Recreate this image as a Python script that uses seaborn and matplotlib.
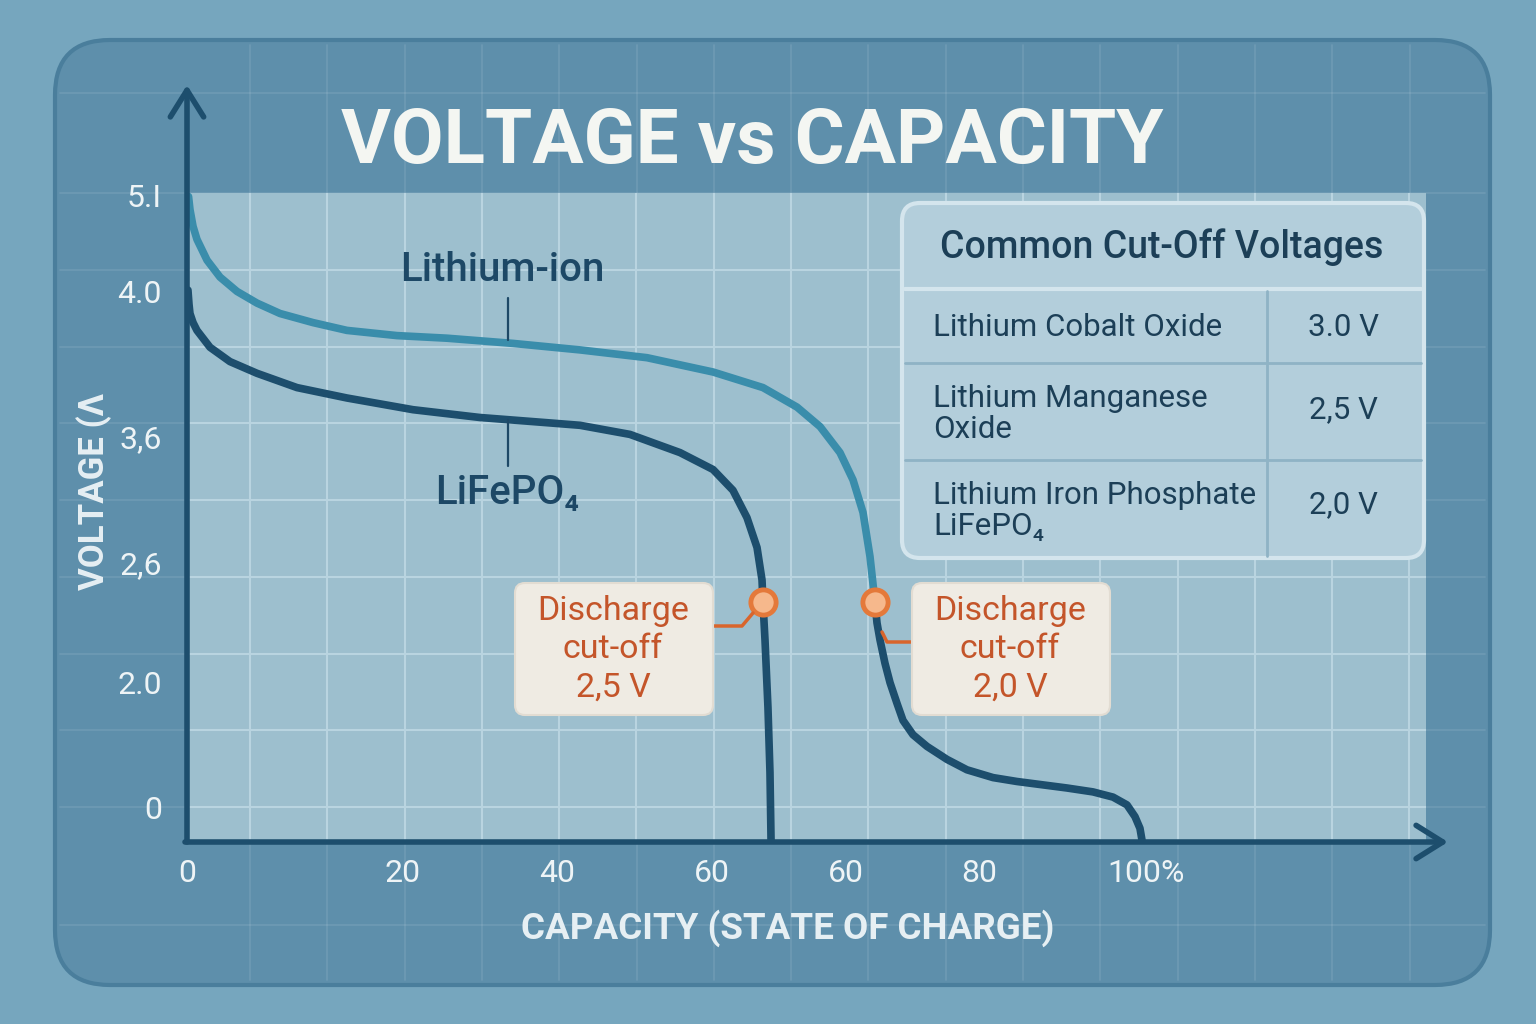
import numpy as np
import pandas as pd
import seaborn as sns
import matplotlib.pyplot as plt
from matplotlib.patches import FancyBboxPatch

# curve values (x = capacity %, y = voltage on the drawn scale)
liion_x = [0.16, 0.31, 0.63, 1.04, 2.09, 3.44, 5.21, 7.30, 9.70, 13.14, 16.68, 21.90, 27.11, 33.99,
           40.98, 47.97, 54.85, 60.06, 63.61, 66.01, 68.09, 69.45, 70.49, 71.22, 71.74]
liion_y = [4.95, 4.85, 4.72, 4.62, 4.46, 4.33, 4.22, 4.13, 4.05, 3.98, 3.92, 3.88, 3.86, 3.82,
           3.77, 3.71, 3.60, 3.48, 3.33, 3.18, 2.98, 2.77, 2.52, 2.18, 1.83]

# part of the lithium-ion curve after the cut-off point (drawn darker)
liion_tail_x = [71.74, 71.95, 72.26, 72.78, 73.31, 74.04, 74.66, 75.70, 77.16, 79.25, 81.33, 84.05,
                86.55, 91.76, 94.47, 96.56, 98.02, 98.85, 99.37, 99.58]
liion_tail_y = [1.83, 1.67, 1.54, 1.36, 1.21, 1.05, 0.92, 0.81, 0.72, 0.62, 0.54, 0.48,
                0.45, 0.40, 0.37, 0.33, 0.27, 0.18, 0.09, 0.0]

lfp_x = [0.10, 0.21, 0.31, 0.63, 1.04, 2.40, 4.48, 7.30, 11.47, 16.68, 23.57, 30.55, 37.54, 40.98,
         46.19, 51.41, 54.85, 56.93, 58.39, 59.44, 59.96, 60.06, 60.27, 60.58, 60.79, 60.90]
lfp_y = [4.23, 4.12, 4.05, 3.98, 3.92, 3.79, 3.68, 3.59, 3.48, 3.40, 3.31, 3.25, 3.21, 3.19,
         3.12, 2.98, 2.85, 2.69, 2.48, 2.25, 2.00, 1.83, 1.54, 1.02, 0.52, 0.0]

# discharge cut-off points
cutoff_x = [60.06, 71.74]
cutoff_y = [1.83, 1.83]

y_ticks = [4.96, 4.22, 3.10, 2.13, 1.21, 0.25]
y_labels = ['5.I', '4.0', '3,6', '2,6', '2.0', '0']
x_ticks = [0, 22.5, 38.6, 54.7, 68.7, 82.6, 100]
x_labels = ['0', '20', '40', '60', '60', '80', '100%']

table_names = ['Lithium Cobalt Oxide', 'Lithium Manganese\nOxide', 'Lithium Iron Phosphate\nLiFePO₄']
table_values = ['3.0 V', '2,5 V', '2,0 V']
callout_texts = ['Discharge\ncut-off\n2,5 V', 'Discharge\ncut-off\n2,0 V']

# renkler
bg_col = '#76a6be'
panel_col = '#5e8fab'
plot_col = '#9dbfce'
grid_col = '#b9d4e0'
teal = '#3a8dab'
navy = '#1d4e6d'
light_txt = '#eef4f6'
orange = '#d9652c'
orange_txt = '#c4552a'

sns.set_theme(style='white')
plt.rcParams['font.family'] = ['Roboto', 'DejaVu Sans']

fig = plt.figure(figsize=(15.36, 10.24), dpi=100)
fig.patch.set_facecolor(bg_col)

# arka plan paneli (piksel koordinatlari)
bg = fig.add_axes([0, 0, 1, 1])
bg.set_xlim(0, 1536)
bg.set_ylim(1024, 0)
bg.axis('off')
bg.add_patch(FancyBboxPatch((55, 40), 1435, 945, boxstyle='round,pad=0,rounding_size=55',
                            fc=panel_col, ec='#4a7e9c', lw=3))
for gx in np.arange(250, 1480, 77.3):
    bg.plot([gx, gx], [45, 980], color='white', alpha=0.10, lw=1.2)
for gy in [93, 193, 270, 347, 423, 500, 577, 654, 730, 807, 925]:
    bg.plot([60, 1485], [gy, gy], color='white', alpha=0.10, lw=1.2)

bg.text(752, 142, 'VOLTAGE vs CAPACITY', ha='center', va='center', fontsize=55,
        fontweight='bold', color='#f4f6f2')

# ana grafik
ax = fig.add_axes([187 / 1536, (1024 - 840) / 1024, (1426 - 187) / 1536, (840 - 193) / 1024])
ax.set_facecolor(plot_col)
ax.set_xlim(0, (1426 - 187) / 9.59)
ax.set_ylim(0, 647 / 130)

sns.lineplot(x=liion_x, y=liion_y, ax=ax, color=teal, lw=5.5, sort=False, estimator=None)
sns.lineplot(x=liion_tail_x, y=liion_tail_y, ax=ax, color=navy, lw=5.5, sort=False, estimator=None)
sns.lineplot(x=lfp_x, y=lfp_y, ax=ax, color=navy, lw=5.5, sort=False, estimator=None)
ax.scatter(cutoff_x, cutoff_y, s=330, color='#f6b88c', edgecolor='#e4793a', linewidth=3.5, zorder=5)
for line in ax.get_lines():
    line.set_solid_capstyle('round')
    line.set_solid_joinstyle('round')

ax.set_xticks(x_ticks)
ax.set_xticklabels(x_labels)
ax.set_yticks(y_ticks)
ax.set_yticklabels(y_labels)
ax.set_xticks(np.arange(6.57, 129, 8.06), minor=True)
ax.set_yticks(np.arange(0.254, 4.95, 0.59), minor=True)
ax.grid(which='minor', color=grid_col, lw=1.5)
ax.grid(which='major', visible=False)
ax.tick_params(which='both', length=0)
ax.tick_params(axis='x', pad=14, labelsize=23, labelcolor=light_txt)
ax.tick_params(axis='y', pad=18, labelsize=23, labelcolor=light_txt)
for s in ax.spines.values():
    s.set_visible(False)
ax.set_xlabel('')
ax.set_ylabel('')

# ust katman: oklar, etiketler, tablo
top = fig.add_axes([0, 0, 1, 1])
top.set_xlim(0, 1536)
top.set_ylim(1024, 0)
top.axis('off')
top.patch.set_alpha(0)

arrow_style = dict(arrowstyle='->,head_length=1.6,head_width=1.0', lw=4, color=navy,
                   shrinkA=0, shrinkB=0, capstyle='round', joinstyle='round')
top.annotate('', xy=(187, 85), xytext=(187, 842), arrowprops=arrow_style)
top.annotate('', xy=(1448, 842), xytext=(185, 842), arrowprops=arrow_style)

top.text(788, 928, 'CAPACITY (STATE OF CHARGE)', ha='center', va='center', fontsize=26.5,
         fontweight='bold', color='#e6eff3')
top.text(94, 491, 'VOLTAGE (Λ', ha='center', va='center', rotation=90, fontsize=25,
         fontweight='bold', color='#e6eff3')

# egri etiketleri
top.text(502, 270, 'Lithium-ion', ha='center', va='center', fontsize=29, fontweight='medium', color='#1d4866')
top.plot([508, 508], [298, 340], color='#1d4866', lw=1.6)
top.text(507, 493, 'LiFePO₄', ha='center', va='center', fontsize=29, fontweight='medium', color='#1d4866')
top.plot([508, 508], [420, 466], color='#1d4866', lw=1.6)

# discharge kutulari
boxes = [(515, 583), (912, 583)]
for (bx, by), txt in zip(boxes, callout_texts):
    top.add_patch(FancyBboxPatch((bx, by), 198, 132, boxstyle='round,pad=0,rounding_size=10',
                                 fc='#efebe3', ec='#e2dcd2', lw=1.5, zorder=3))
    top.text(bx + 98, by + 66, txt, ha='center', va='center', fontsize=24.5, color=orange_txt,
             linespacing=1.25, zorder=4)
top.plot([713, 742, 753], [626, 626, 613], color=orange, lw=2.5, zorder=2)
top.plot([912, 887, 882], [642, 642, 632], color=orange, lw=2.5, zorder=2)

# tablo
top.add_patch(FancyBboxPatch((902, 203), 522, 355, boxstyle='round,pad=0,rounding_size=18',
                             fc='#b3cedb', ec='#d4e5ed', lw=3))
top.plot([905, 1421], [289, 289], color='#d4e5ed', lw=3)
top.plot([905, 1421], [363, 363], color='#8fb3c5', lw=2)
top.plot([905, 1421], [460, 460], color='#8fb3c5', lw=2)
top.plot([1267, 1267], [291, 556], color='#8fb3c5', lw=2)
top.text(1162, 247, 'Common Cut-Off Voltages', ha='center', va='center', fontsize=27,
         fontweight='medium', color='#1c3f57')
row_y = [328, 414, 511]
val_y = [328, 410, 505]
for name, val, ry, vy in zip(table_names, table_values, row_y, val_y):
    top.text(933, ry, name, ha='left', va='center', fontsize=22.5, color='#1c3f57', linespacing=1.1)
    top.text(1343, vy, val, ha='center', va='center', fontsize=22.5, color='#1c3f57')

fig.savefig('out.png', dpi=100, facecolor=fig.get_facecolor())
